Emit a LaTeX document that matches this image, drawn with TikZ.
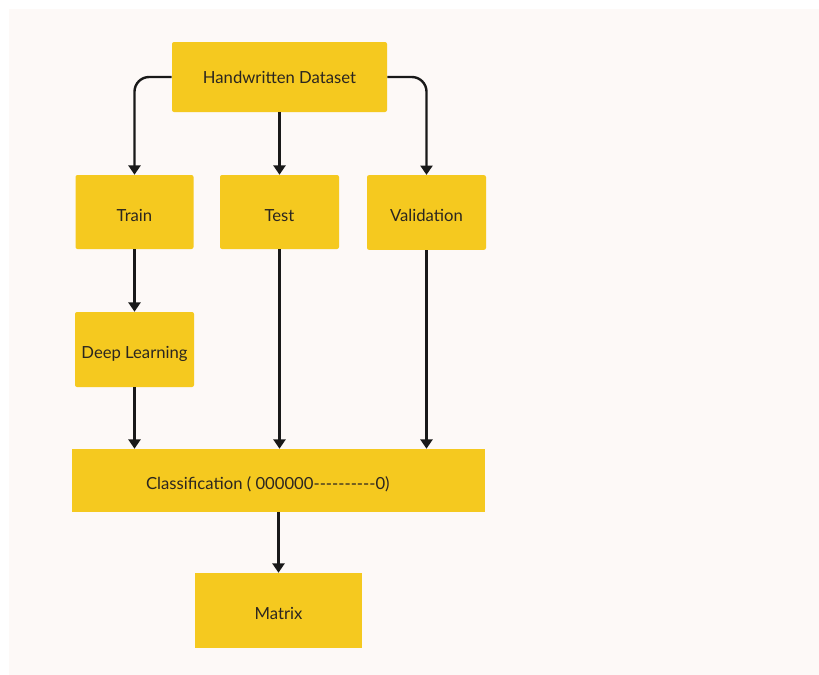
\documentclass[tikz,border=0pt]{standalone}
\usepackage{fontspec}
\setmainfont[Ligatures=TeXOff]{Lato}
\usetikzlibrary{arrows.meta}
\definecolor{bgc}{HTML}{FDF9F7}
\definecolor{boxc}{HTML}{F5C91F}
\definecolor{txtc}{HTML}{2B2620}
\tikzset{
  box/.style={fill=boxc, draw=none, rounded corners=1.5pt, inner sep=0pt,
    font=\fontsize{12.5}{15}\selectfont, text=txtc, text height=13.5pt, text depth=0pt},
  arr/.style={line width=1.8pt, draw=black!90, -{Triangle[width=9pt,length=7pt]}}
}
\begin{document}
\begin{tikzpicture}[x=0.75pt,y=-0.75pt]
\useasboundingbox (0,0) rectangle (819,675);
\fill[white] (0,0) rectangle (819,675);
\fill[bgc] (9,9) rectangle (819,675);

\node[box, minimum width=161.25pt, minimum height=52.5pt, text height=9pt] (hd) at (279.5,77) {Handwritten Dataset};
\node[box, minimum width=88.5pt, minimum height=55.5pt] (train) at (134.5,212) {Train};
\node[box, minimum width=89.25pt, minimum height=55.5pt] (test) at (279.5,212) {Test};
\node[box, minimum width=89.25pt, minimum height=56pt] (val) at (426.5,212.5) {Validation};
\node[box, minimum width=89.25pt, minimum height=56.25pt] (dl) at (134.5,349.5) {Deep Learning};
\node[box, minimum width=309.75pt, minimum height=47.25pt, rounded corners=0pt] (cls) at (278.5,480.5) {Classification ( 000000----------0)\hspace*{16pt}};
\node[box, minimum width=125.25pt, minimum height=56.25pt, rounded corners=0pt] (mat) at (278.5,610.5) {Matrix};

\draw[arr, rounded corners=11pt] (hd.west) -| (train.north);
\draw[arr, rounded corners=11pt] (hd.east) -| (val.north);
\draw[arr] (hd.south) -- (test.north);
\draw[arr] (train.south) -- (dl.north);
\draw[arr] (dl.south) -- (dl.south |- cls.north);
\draw[arr] (test.south) -- (test.south |- cls.north);
\draw[arr] (val.south) -- (val.south |- cls.north);
\draw[arr] (cls.south -| mat.north) -- (mat.north);
\end{tikzpicture}
\end{document}
